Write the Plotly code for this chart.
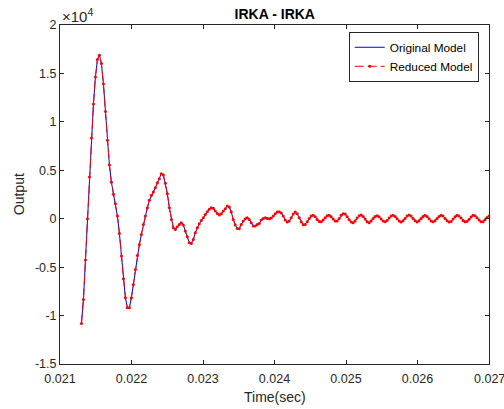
import numpy as np
import plotly.graph_objects as go

t_start = 0.0213
t_end = 0.027

original_output = [
    -10817, -8337, -4272, 0, 4306, 8337, 11851, 14641, 16433, 16881,
    16019, 13918, 11058, 8096, 5546, 3755, 2515, 1550, 276, -1516,
    -3858, -6201, -8165, -9198, -9198, -8165, -6787, -5236, -3790, -2653,
    -1619, -586, 276, 1137, 1895, 2412, 2756, 3204, 3721, 4134,
    4651, 4513, 3652, 2584, 1137, -69, -930, -1102, -827, -586,
    -413, -655, -1275, -1860, -2480, -2549, -2136, -1447, -930, -517,
    -172, 103, 448, 723, 965, 1137, 1068, 792, 551, 379,
    517, 792, 1034, 1309, 1206, 689, -69, -655, -999, -1034,
    -586, -241, 0, 103, -69, -413, -758, -758, -586, -482,
    -138, 34, 103, 34, 0, 69, 276, 517, 689, 723,
    586, 276, -138, -345, -241, 103, 482, 689, 517, 103,
    -345, -620, -586, -310, 34, 276, 345, 207, -69, -276,
    -310, -138, 103, 310, 345, 207, -34, -241, -241, 34,
    345, 517, 482, 207, -103, -345, -413, -241, 69, 310,
    379, 241, -34, -310, -413, -241, 34, 241, 310, 207,
    -34, -241, -310, -172, 69, 276, 345, 241, 0, -241,
    -345, -207, 34, 276, 379, 276, 34, -207, -345, -207,
    34, 241, 345, 241, 0, -241, -310, -207, 34, 241,
    345, 276, 34, -207, -345, -276, -34, 207, 345, 276,
    69, -172, -310, -276, -69, 172, 345, 310, 103, -138,
    -310, -310, -103, 138, 276,
]
# the reduced model overlays the original model exactly at this scale
reduced_output = list(original_output)

x_tick_vals = [0.021, 0.022, 0.023, 0.024, 0.025, 0.026, 0.027]
x_tick_text = ["0.021", "0.022", "0.023", "0.024", "0.025", "0.026", "0.027"]
y_tick_vals = [-15000, -10000, -5000, 0, 5000, 10000, 15000, 20000]
y_tick_text = ["-1.5", "-1", "-0.5", "0", "0.5", "1", "1.5", "2"]

time = np.linspace(t_start, t_end, len(original_output))

FONT = "Liberation Sans, Arial, Helvetica, sans-serif"
AX = "#262626"
TICK_SIZE = 12.5

fig = go.Figure()
fig.add_trace(go.Scatter(
    x=time, y=original_output, mode="lines", name="Original Model",
    line=dict(color="#0000FF", width=1),
))
fig.add_trace(go.Scatter(
    x=time, y=reduced_output, mode="lines+markers", name="Reduced Model",
    line=dict(color="#FF0000", width=1, dash="9px,4px"),
    marker=dict(color="#FF0000", size=3, symbol="circle"),
))

axis_common = dict(
    showline=True, linecolor=AX, linewidth=1, mirror="ticks",
    ticks="inside", ticklen=4, tickwidth=1, tickcolor=AX,
    showgrid=False, zeroline=False,
    tickfont=dict(family=FONT, size=TICK_SIZE, color=AX),
)

# the last x tick label is partly cut by the page edge in the reference;
# Plotly drops it, so it is drawn as a text label at the same tick value
last_x_label = dict(
    text=x_tick_text[-1], xref="x", yref="paper", x=x_tick_vals[-1], y=(364 - 379) / 338.5,
    xanchor="center", yanchor="middle", showarrow=False,
    font=dict(family=FONT, size=TICK_SIZE, color=AX),
)

fig.update_layout(
    width=504, height=409,
    margin=dict(l=60, r=15, t=25, b=45),
    paper_bgcolor="white", plot_bgcolor="white",
    font=dict(family=FONT, color=AX),
    title=dict(text="<b>IRKA - IRKA</b>", x=(60.3 + 489.3) / 2 / 504, xanchor="center",
               y=1 - 14 / 409, yanchor="middle",
               font=dict(family=FONT, size=14, color="#000000")),
    xaxis=dict(range=[0.021, 0.027], tickvals=x_tick_vals, ticktext=x_tick_text,
               ticklabelstandoff=3, **axis_common),
    yaxis=dict(range=[-15000, 20000], tickvals=y_tick_vals, ticktext=y_tick_text, **axis_common),
    legend=dict(x=0.976, xanchor="right", y=0.98, yanchor="top",
                bgcolor="white", bordercolor=AX, borderwidth=1,
                font=dict(family=FONT, size=11.8, color="#000000"),
                tracegroupgap=0, itemsizing="trace"),
    showlegend=True,
    annotations=[
        dict(text="×10<sup>4</sup>", xref="paper", yref="paper", x=0, y=1,
             xanchor="left", yanchor="bottom", showarrow=False, yshift=-2,
             font=dict(family=FONT, size=15, color=AX)),
        dict(text="Time(sec)", xref="paper", yref="paper", x=0.5, y=(364 - 397) / 338.5,
             xanchor="center", yanchor="middle", showarrow=False,
             font=dict(family=FONT, size=14, color=AX)),
        dict(text="Output", xref="paper", yref="paper", x=(19 - 60.3) / 429, y=0.5,
             xanchor="center", yanchor="middle", showarrow=False, textangle=-90,
             font=dict(family=FONT, size=14, color=AX)),
        last_x_label,
    ],
)

fig.write_html("out.html")
